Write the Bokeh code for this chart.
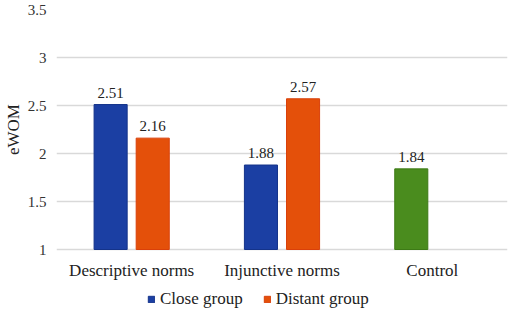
from bokeh.plotting import figure
from bokeh.models import ColumnDataSource, Legend, LegendItem, FixedTicker, LabelSet
from bokeh.embed import file_html
from bokeh.resources import INLINE
from bokeh.transform import dodge

categories = ["Descriptive norms", "Injunctive norms", "Control"]
close_vals = [2.51, 1.88]
distant_vals = [2.16, 2.57]
control_vals = [1.84]
y_ticks = [1, 1.5, 2, 2.5, 3, 3.5]
tick_labels = ["1", "1.5", "2", "2.5", "3", "3.5"]

FONT = "'Liberation Serif', 'Times New Roman', serif"
LEGEND_FONT = "Liberation Serif"
BLUE = "#1b3fa3"
ORANGE = "#e4500a"
GREEN = "#4a8c1e"

base = y_ticks[0]
top = y_ticks[-1]
# frame extends below the baseline so that category labels and legend fit inside it
p = figure(x_range=categories, y_range=(base - 2 / 3, top), width=510, height=313,
           output_backend="svg", toolbar_location=None,
           min_border_left=54, min_border_right=3, min_border_top=9, min_border_bottom=0)
p.outline_line_color = None
p.background_fill_color = "white"

src_close = ColumnDataSource(dict(x=categories[:2], y=close_vals, t=[f"{v:.2f}" for v in close_vals]))
src_dist = ColumnDataSource(dict(x=categories[:2], y=distant_vals, t=[f"{v:.2f}" for v in distant_vals]))
src_ctrl = ColumnDataSource(dict(x=categories[2:], y=control_vals, t=[f"{v:.2f}" for v in control_vals]))
src_cat = ColumnDataSource(dict(x=categories, y=[base] * len(categories), t=categories))

off = 0.14
w = 0.22
r_close = p.vbar(x=dodge("x", -off, range=p.x_range), top="y", bottom=base, width=w, source=src_close,
                 fill_color=BLUE, line_color="#14338a", line_width=1)
r_dist = p.vbar(x=dodge("x", off, range=p.x_range), top="y", bottom=base, width=w, source=src_dist,
                fill_color=ORANGE, line_color="#d9400a", line_width=1)
r_ctrl = p.vbar(x=dodge("x", -off, range=p.x_range), top="y", bottom=base, width=w, source=src_ctrl,
                fill_color=GREEN, line_color="#3d7a16", line_width=1)

for src, o in [(src_close, -off), (src_dist, off), (src_ctrl, -off)]:
    lab = LabelSet(x=dodge("x", o, range=p.x_range), y="y", text="t", source=src,
                   text_align="center", text_baseline="bottom", y_offset=7,
                   text_font=FONT, text_font_size="15px", text_color="#222222")
    p.add_layout(lab)

cat_labels = LabelSet(x="x", y="y", text="t", source=src_cat, text_align="center",
                      text_baseline="top", y_offset=-11, text_font=FONT,
                      text_font_size="17px", text_color="#222222")
p.add_layout(cat_labels)

p.xaxis.visible = False

p.yaxis.ticker = FixedTicker(ticks=y_ticks)
p.yaxis.major_label_overrides = {t: l for t, l in zip(y_ticks, tick_labels)}
p.yaxis.axis_line_color = None
p.yaxis.major_tick_line_color = None
p.yaxis.minor_tick_line_color = None
p.yaxis.major_tick_out = 0
p.yaxis.major_tick_in = 0
p.yaxis.major_label_standoff = 10
p.yaxis.major_label_text_font = FONT
p.yaxis.major_label_text_font_size = "15px"
p.yaxis.major_label_text_color = "#333333"
p.yaxis.axis_label = "\u00a0" * 15 + "eWOM"
p.yaxis.axis_label_text_font = FONT
p.yaxis.axis_label_text_font_size = "17px"
p.yaxis.axis_label_text_font_style = "normal"
p.yaxis.axis_label_text_color = "#222222"
p.yaxis.axis_label_standoff = 2

p.xgrid.grid_line_color = None
p.ygrid.grid_line_color = "#d9d9d9"
p.ygrid.grid_line_width = 1.5

legend = Legend(items=[LegendItem(label="Close group", renderers=[r_close]),
                       LegendItem(label="Distant group", renderers=[r_dist])],
                orientation="horizontal", location=(91, 4),
                glyph_width=8, glyph_height=8, label_standoff=5, spacing=20,
                label_text_font=LEGEND_FONT, label_text_font_size="17px", label_text_color="#222222",
                border_line_color=None, background_fill_alpha=0, padding=0, margin=0)
p.add_layout(legend, "center")

open("out.html", "w").write(file_html(p, INLINE))
